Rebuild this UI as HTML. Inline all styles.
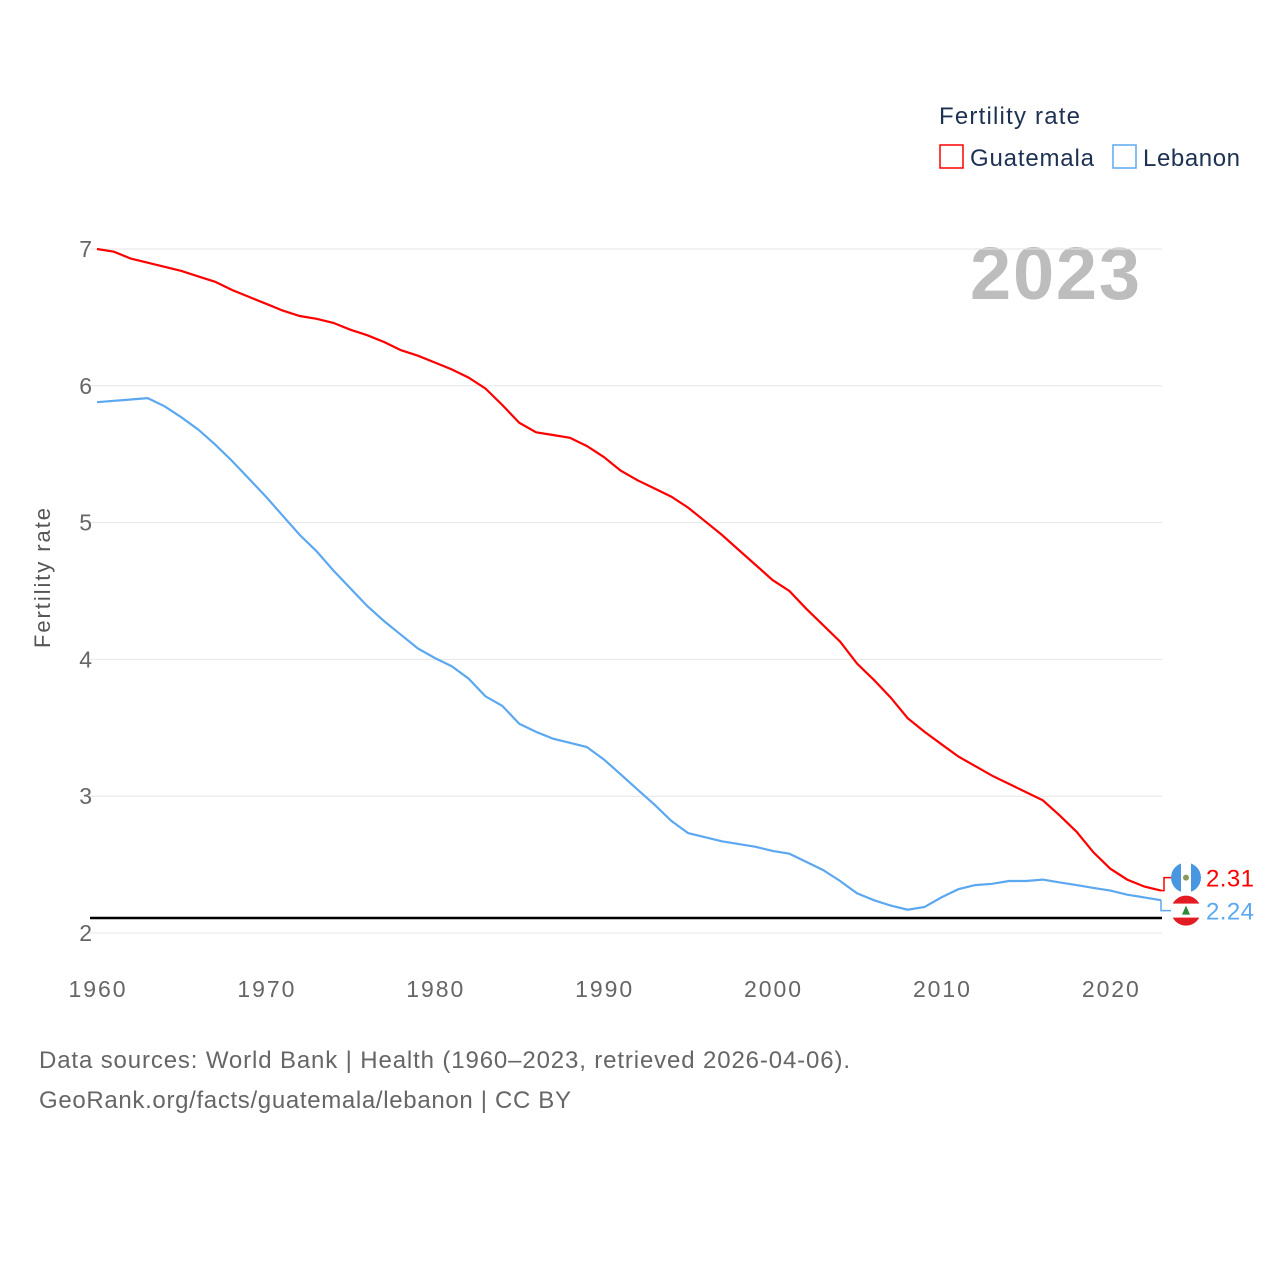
<!DOCTYPE html>
<html><head><meta charset="utf-8"><style>
body{margin:0;background:#fff;font-family:"Liberation Sans",sans-serif;}
</style></head><body>
<svg id="chart" width="1280" height="1280" xmlns="http://www.w3.org/2000/svg">
<text x="939" y="124" font-size="24" fill="#1d3152" textLength="141">Fertility rate</text>
<g><rect x="940" y="145" width="23" height="23" fill="none" stroke="#ff0000" stroke-width="1.5"/><text x="970" y="166" font-size="24" fill="#1d3152" textLength="124">Guatemala</text></g>
<g><rect x="1113" y="145" width="23" height="23" fill="none" stroke="#5ca8f0" stroke-width="1.5"/><text x="1143" y="166" font-size="24" fill="#1d3152" textLength="97">Lebanon</text></g>
<text x="1140" y="299" font-size="74" font-weight="bold" fill="#bdbdbd" text-anchor="end" textLength="170">2023</text>
<text transform="translate(50,578) rotate(-90)" font-size="22" fill="#555" text-anchor="middle" textLength="140">Fertility rate</text>
<g id="grid"></g><g id="lines"></g>
<text x="39" y="1068" font-size="24" fill="#666" textLength="811">Data sources: World Bank | Health (1960–2023, retrieved 2026-04-06).</text>
<text x="39" y="1108" font-size="24" fill="#666" textLength="532">GeoRank.org/facts/guatemala/lebanon | CC BY</text>
</svg>
<script>
const years=[];for(let y=1960;y<=2023;y++)years.push(y);
const guatemala=[7.0,6.98,6.93,6.9,6.87,6.84,6.8,6.76,6.7,6.65,6.6,6.55,6.51,6.49,6.46,6.41,6.37,6.32,6.26,6.22,6.17,6.12,6.06,5.98,5.86,5.73,5.66,5.64,5.62,5.56,5.48,5.38,5.31,5.25,5.19,5.11,5.01,4.91,4.8,4.69,4.58,4.5,4.37,4.25,4.13,3.97,3.85,3.72,3.57,3.47,3.38,3.29,3.22,3.15,3.09,3.03,2.97,2.86,2.74,2.59,2.47,2.39,2.34,2.31];
const lebanon=[5.88,5.89,5.9,5.91,5.85,5.77,5.68,5.57,5.45,5.32,5.19,5.05,4.91,4.79,4.65,4.52,4.39,4.28,4.18,4.08,4.01,3.95,3.86,3.73,3.66,3.53,3.47,3.42,3.39,3.36,3.27,3.16,3.05,2.94,2.82,2.73,2.7,2.67,2.65,2.63,2.6,2.58,2.52,2.46,2.38,2.29,2.24,2.2,2.17,2.19,2.26,2.32,2.35,2.36,2.38,2.38,2.39,2.37,2.35,2.33,2.31,2.28,2.26,2.24];
const yTicks=[2,3,4,5,6,7];
const xTicks=[1960,1970,1980,1990,2000,2010,2020];
const replacement=[2.11];
const NS="http://www.w3.org/2000/svg";
const X=y=>97+(y-1960)*(1064/63);
const Y=v=>933-(v-2)*136.8;
function mk(t,a,p){const e=document.createElementNS(NS,t);for(const k in a)e.setAttribute(k,a[k]);p.appendChild(e);return e;}
const g=document.getElementById('grid');
yTicks.forEach(v=>{
 const l=mk('line',{x1:90,x2:1162,y1:Y(v),y2:Y(v),stroke:'#e6e6e6'},g);
 
 
 const t=mk('text',{x:92,y:Y(v)+8,'font-size':23,fill:'#666','text-anchor':'end'},g);t.textContent=v;
 
 
});
xTicks.forEach(v=>{
 const t=mk('text',{x:X(v),y:997,'font-size':23,fill:'#666','text-anchor':'middle',textLength:57},g);t.textContent=v;
 
 
});
replacement.forEach(v=>{
 const l=mk('line',{x1:90,x2:1162,y1:Y(v),y2:Y(v),stroke:'#000','stroke-width':2.5},g);
 
 
});
const L=document.getElementById('lines');
function series(d,c,name){
 const p=mk('path',{d:d.map((v,i)=>(i?'L':'M')+X(years[i]).toFixed(1)+','+Y(v).toFixed(1)).join(''),fill:'none',stroke:c,'stroke-width':2.2},L);
 
 
}
series(guatemala,'#ff0000','guatemala');
series(lebanon,'#5ca8f0','lebanon');
const ex=X(2023);
const gv=guatemala[guatemala.length-1],lv=lebanon[lebanon.length-1];
const gy=Math.min(Y(gv),Y(lv))-13,ly=gy+33;
mk('path',{d:`M${ex},${Y(gv)}H${ex+3}V${gy}H1172`,fill:'none',stroke:'#ff0000','stroke-width':1.5},L);
mk('path',{d:`M${ex},${Y(lv)}V${ly}H1172`,fill:'none',stroke:'#5ca8f0','stroke-width':1.5},L);
const fg=mk('g',{},L);


mk('circle',{cx:1186,cy:gy,r:15,fill:'#4997e0'},fg);
mk('rect',{x:1181,y:gy-15,width:10,height:30,fill:'#fff'},fg);
mk('circle',{cx:1186,cy:gy,r:3,fill:'#8a9a5b'},fg);
const fl=mk('g',{},L);


mk('circle',{cx:1186,cy:ly,r:15,fill:'#e31b23'},fl);
mk('rect',{x:1171,y:ly-7,width:30,height:14,fill:'#fff'},fl);
mk('path',{d:`M1186,${ly-5}L1190,${ly+4}H1182Z`,fill:'#2a8a3a'},fl);
const t1=mk('text',{x:1206,y:gy+9,'font-size':24,fill:'#ff0000',textLength:48},L);t1.textContent=gv.toFixed(2);


const t2=mk('text',{x:1206,y:ly+9,'font-size':24,fill:'#5ca8f0',textLength:48},L);t2.textContent=lv.toFixed(2);


</script>
</body></html>
